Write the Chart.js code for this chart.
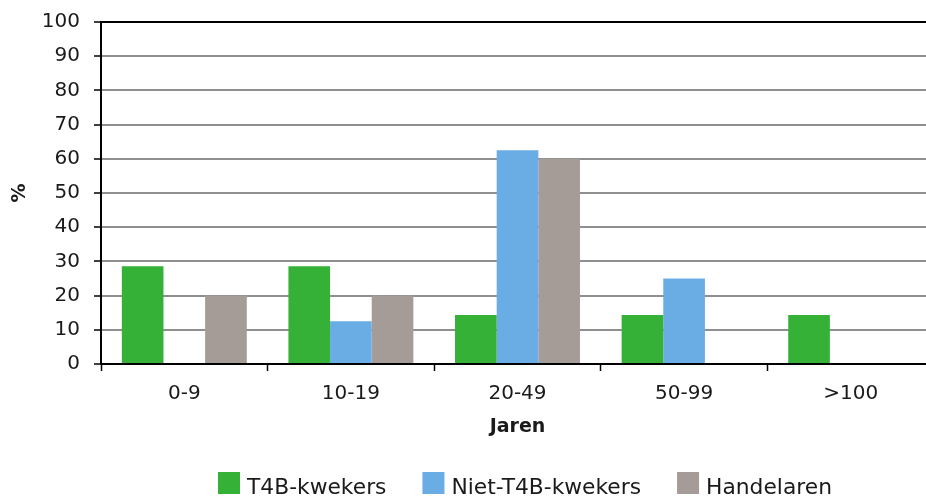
<!DOCTYPE html>
<html>
<head>
<meta charset="utf-8">
<script src="https://cdn.jsdelivr.net/npm/chart.js@4/dist/chart.umd.min.js"></script>
<style>
  html, body { margin: 0; padding: 0; background: #fff; overflow: hidden; }
  canvas { display: block; }
</style>
</head>
<body>
<canvas id="chart" width="934" height="498"></canvas>
<script>
// Leeftijd van het bedrijf (jaren), aandeel per groep in procenten
const categories = ['0-9', '10-19', '20-49', '50-99', '>100'];
const t4bKwekers = [28.6, 28.6, 14.3, 14.3, 14.3];
const nietT4bKwekers = [0, 12.5, 62.5, 25, 0];
const handelaren = [20, 20, 60, 0, 0];
const seriesNames = ['T4B-kwekers', 'Niet-T4B-kwekers', 'Handelaren'];
const seriesColors = ['#35b137', '#6aade4', '#a59c97'];
const yMin = 0, yMax = 100, yStep = 10;
const xTitle = 'Jaren';
const yTitle = '%';

const FONT = '"DejaVu Sans", Verdana, sans-serif';

// Legend drawn under the plot, centred on a fixed x position
const bottomLegend = {
  id: 'bottomLegend',
  afterDraw(chart) {
    const ctx = chart.ctx;
    ctx.save();
    ctx.font = '21.8px ' + FONT;
    ctx.textBaseline = 'middle';
    ctx.textAlign = 'left';
    const box = 22, gap = 7, spacing = 36;
    const items = chart.data.datasets.map(d => ({
      label: d.label, color: d.backgroundColor, w: ctx.measureText(d.label).width
    }));
    const total = items.reduce((s, it) => s + box + gap + it.w, 0) + spacing * (items.length - 1);
    let x = 525 - total / 2;
    const yText = 488;
    const yBox = 472;
    items.forEach(it => {
      ctx.fillStyle = it.color;
      ctx.fillRect(x, yBox, box, box);
      ctx.fillStyle = '#1a1a1a';
      ctx.fillText(it.label, x + box + gap, yText);
      x += box + gap + it.w + spacing;
    });
    ctx.restore();
  }
};

const datasets = [t4bKwekers, nietT4bKwekers, handelaren].map((values, i) => ({
  label: seriesNames[i],
  data: values,
  backgroundColor: seriesColors[i],
  borderWidth: 0,
  categoryPercentage: 0.75,
  barPercentage: 1.0
}));

new Chart(document.getElementById('chart'), {
  type: 'bar',
  data: { labels: categories, datasets },
  plugins: [bottomLegend],
  options: {
    responsive: false,
    animation: false,
    devicePixelRatio: 1,
    layout: { padding: { top: 22, right: 0, bottom: 60, left: 0 } },
    plugins: {
      legend: { display: false },
      tooltip: { enabled: false }
    },
    scales: {
      x: {
        offset: true,
        grid: {
          offset: true,
          drawOnChartArea: false,
          drawTicks: true,
          tickLength: 7,
          tickColor: '#000',
          tickWidth: 1.5
        },
        border: { display: true, color: '#000', width: 2 },
        ticks: {
          color: '#1a1a1a',
          font: { family: FONT, size: 20 },
          padding: 11,
          maxRotation: 0,
          autoSkip: false
        },
        title: {
          display: true,
          text: xTitle,
          color: '#1a1a1a',
          font: { family: FONT, size: 19, weight: 'bold' },
          padding: { top: 0, bottom: 0 }
        },
        afterFit(scale) { scale.height = 74; }
      },
      y: {
        min: yMin,
        max: yMax,
        ticks: {
          stepSize: yStep,
          color: '#1a1a1a',
          font: { family: FONT, size: 20 },
          padding: 14
        },
        grid: {
          color: ctx => (ctx.tick && ctx.tick.value === yMax ? '#000' : '#8f8f8f'),
          lineWidth: 2,
          drawTicks: true,
          tickLength: 7,
          tickColor: '#000',
          tickWidth: 1.5
        },
        border: { display: true, color: '#000', width: 2 },
        title: {
          display: true,
          text: yTitle,
          color: '#1a1a1a',
          font: { family: FONT, size: 19, weight: 'bold' },
          padding: { top: 9, bottom: 0 }
        },
        afterFit(scale) {
          scale.width = 101;
          scale.paddingTop = 0;
          scale.paddingBottom = 0;
        }
      }
    }
  }
});
</script>
</body>
</html>
